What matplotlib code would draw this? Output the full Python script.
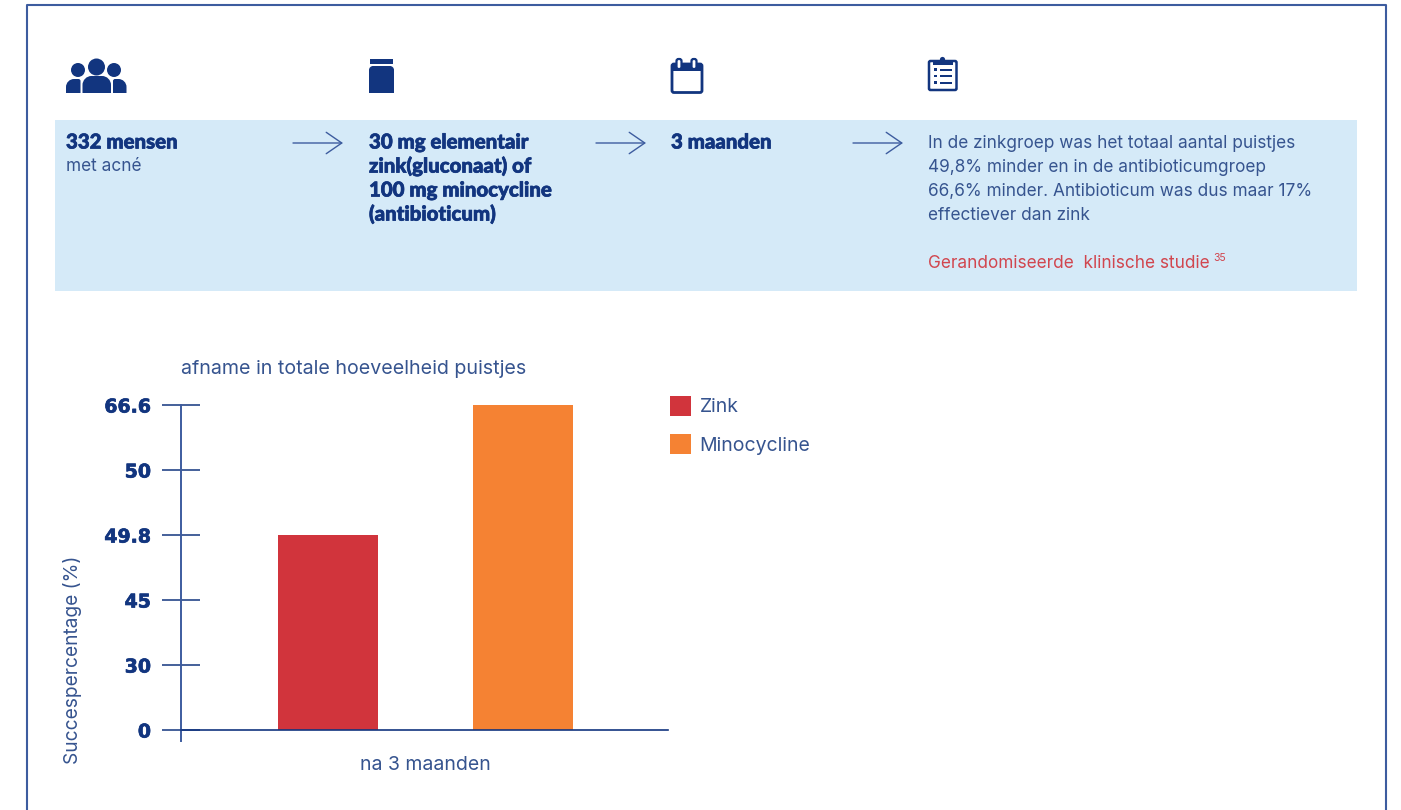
import numpy as np
import matplotlib
matplotlib.use("Agg")
import matplotlib.pyplot as plt
import matplotlib.patheffects as pe
from matplotlib.patches import Rectangle, Circle, FancyBboxPatch, PathPatch
from matplotlib.path import Path

plt.rcParams.update({
    "font.family": ["Inter", "DejaVu Sans"],
    "font.size": 12.4,
})

NAVY = "#12357f"
TEXT = "#36548f"
LINE = "#3d5c9f"
BOX = "#d5eaf8"
RED = "#d1343c"
ORANGE = "#f58233"
HEAVY = ["Lato", "DejaVu Sans"]
THICKEN = [pe.withStroke(linewidth=0.5, foreground=NAVY)]

# chart data
groups = ["na 3 maanden"]
series_names = ["Zink", "Minocycline"]
series_values = [49.8, 66.6]
series_colors = [RED, ORANGE]
y_ticks = [0, 30, 45, 49.8, 50, 66.6]

# header texts
step_bold = [
    "332 mensen",
    "30 mg elementair\nzink(gluconaat) of\n100 mg minocycline\n(antibioticum)",
    "3 maanden",
]
step_light = "met acné"
result_lines = [
    "In de zinkgroep was het totaal aantal puistjes",
    "49,8% minder en in de antibioticumgroep",
    "66,6% minder. Antibioticum was dus maar 17%",
    "effectiever dan zink",
]
source_text = "Gerandomiseerde  klinische studie"
source_ref = "35"

fig = plt.figure(figsize=(14.01, 8.10), dpi=100, facecolor="white")

# page layer in pixel coordinates, y pointing down
page = fig.add_axes([0, 0, 1, 1])
page.set_xlim(0, 1401)
page.set_ylim(810, 0)
page.axis("off")

# outer frame, open at the bottom
page.plot([27, 27, 1386, 1386], [812, 5, 5, 812], color=LINE, lw=1.5)
page.add_patch(Rectangle((55, 120), 1302, 171, fc=BOX, ec="none"))


def body(x0, x1, top, bottom, rl, rr):
    k = 0.45
    verts = [
        (x0, bottom), (x0, top + rl),
        (x0, top + rl * k), (x0 + rl * k, top), (x0 + rl, top),
        (x1 - rr, top),
        (x1 - rr * k, top), (x1, top + rr * k), (x1, top + rr),
        (x1, bottom), (x0, bottom),
    ]
    codes = [Path.MOVETO, Path.LINETO, Path.CURVE4, Path.CURVE4, Path.CURVE4,
             Path.LINETO, Path.CURVE4, Path.CURVE4, Path.CURVE4,
             Path.LINETO, Path.CLOSEPOLY]
    page.add_patch(PathPatch(Path(verts, codes), fc=NAVY, ec="none"))


def rounded(x, y, w, h, r, **kw):
    page.add_patch(FancyBboxPatch((x + r, y + r), w - 2 * r, h - 2 * r,
                                  boxstyle=f"round,pad={r},rounding_size={r}", **kw))


# people icon
for cx, cy, r in [(78, 70, 7), (96.5, 67, 8.5), (114, 70, 7)]:
    page.add_patch(Circle((cx, cy), r, fc=NAVY, ec="none"))
body(66, 80.5, 79, 93, 8, 2)
body(82.5, 111, 76, 93, 9, 9)
body(113, 126.5, 79, 93, 2, 8)

# jar icon
page.add_patch(Rectangle((370, 59), 23, 5, fc=NAVY, ec="none"))
body(369, 394, 66, 93, 4, 4)

# calendar icon
rounded(672, 64, 30, 28.5, 2, fc="white", ec=NAVY, lw=2)
page.add_patch(Rectangle((672, 64), 30, 7, fc=NAVY, ec="none"))
for cx in (679, 694):
    rounded(cx - 2.5, 59, 5, 10, 2, fc="white", ec=NAVY, lw=1.6)

# clipboard icon
rounded(929, 61, 27.5, 29, 1.5, fc="white", ec=NAVY, lw=1.8)
page.add_patch(Rectangle((933, 61), 20, 3.6, fc=NAVY, ec="none"))
page.add_patch(Circle((942.5, 59.5), 2.6, fc=NAVY, ec="none"))
for ly in (69.5, 76, 82.5):
    page.add_patch(Rectangle((934, ly - 1.2), 3.4, 2.4, fc=NAVY, ec="none"))
    page.add_patch(Rectangle((939.5, ly - 1), 12, 2, fc=NAVY, ec="none"))

# header arrows
for x0, x1 in [(293, 343), (596, 646), (853, 903)]:
    page.annotate("", xy=(x1, 143), xytext=(x0, 143),
                  arrowprops=dict(arrowstyle="->,head_length=0.8,head_width=0.55",
                                  color=LINE, lw=1.0, mutation_scale=14,
                                  shrinkA=0, shrinkB=0))

# header text columns
step_x = [66, 369, 671]
for x, label in zip(step_x, step_bold):
    for k, row in enumerate(label.split("\n")):
        page.text(x, 142 + 24 * k, row, color=NAVY, fontsize=14.7, fontweight="black",
                  family=HEAVY, va="center", path_effects=THICKEN)
page.text(66, 166.5, step_light, color=TEXT, va="center")
for k, row in enumerate(result_lines):
    page.text(928, 143.5 + 24 * k, row, color=TEXT, va="center")
page.text(928, 263, source_text, color=RED, va="center", alpha=0.9)
page.text(1213, 258, source_ref, color=RED, fontsize=7.5, va="center", alpha=0.9)


# evenly spaced y ticks, so the value axis is piecewise linear between them
tick_positions = np.arange(len(y_ticks), dtype=float)


def to_position(v):
    return np.interp(v, y_ticks, tick_positions)


def from_position(p):
    return np.interp(p, tick_positions, y_ticks)


# bar chart
W, H = 1401, 810
ax = fig.add_axes([181 / W, 1 - 730 / H, 487 / W, 325 / H])
ax.patch.set_alpha(0)
ax.set_yscale("function", functions=(to_position, from_position))
ax.set_ylim(0, 66.6)
ax.set_xlim(-0.754, 1.744)

for i, (name, value, color) in enumerate(zip(series_names, series_values, series_colors)):
    ax.bar(i, value, width=0.513, color=color, label=name, zorder=2)

ax.set_xticks([0.5])
ax.set_xticklabels(groups, color=TEXT, fontsize=14)
ax.tick_params(axis="x", length=0, pad=19)

ax.set_yticks(y_ticks)
ax.set_yticklabels([f"{t:g}" for t in y_ticks], color=NAVY, fontsize=13.6, fontweight="bold",
                   family="DejaVu Sans", path_effects=THICKEN)
ax.yaxis.set_minor_locator(matplotlib.ticker.NullLocator())
ax.tick_params(axis="y", direction="inout", length=27.4, width=1.1, color=NAVY, pad=8)

for side in ("top", "right"):
    ax.spines[side].set_visible(False)
ax.spines["bottom"].set_color(NAVY)
ax.spines["bottom"].set_linewidth(1.2)
ax.spines["left"].set_color(LINE)
ax.spines["left"].set_linewidth(1.4)

# y axis runs on a little below the baseline
page.plot([181, 181], [730, 741], color=LINE, lw=1.4)

ax.set_ylabel("Succespercentage (%)", color=TEXT, fontsize=13.8)
ax.yaxis.set_label_coords(-0.203, 0.215)
ax.set_title("afname in totale hoeveelheid puistjes", loc="left", color=TEXT,
             fontsize=14.15, pad=22.5)

ax.legend(loc="upper left", bbox_to_anchor=(1.004, 1.027), frameon=False, fontsize=14,
          handlelength=1.08, handleheight=1.15, handletextpad=0.45, labelspacing=0.92,
          labelcolor=TEXT, borderpad=0, borderaxespad=0)

fig.savefig("out.png", dpi=100)
